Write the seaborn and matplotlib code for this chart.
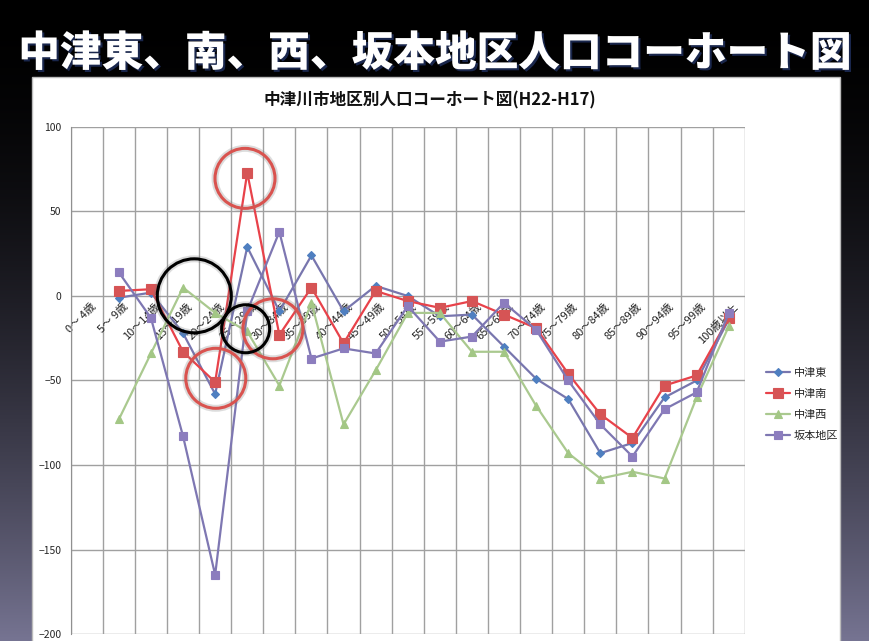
import numpy as np
import pandas as pd
import matplotlib.pyplot as plt
import seaborn as sns
from matplotlib.patches import Rectangle
import matplotlib.patheffects as pe

# ===== データ =====
age_groups = ["0～ 4歳", "5～ 9歳", "10～14歳", "15～19歳", "20～24歳", "25～29歳",
              "30～34歳", "35～39歳", "40～44歳", "45～49歳", "50～54歳", "55～59歳",
              "60～64歳", "65～69歳", "70～74歳", "75～79歳", "80～84歳", "85～89歳",
              "90～94歳", "95～99歳", "100歳以上"]
x_pos = list(range(1, 21))  # 0～4歳はデータなし

higashi = [-1, 2, -22, -58, 29, -9, 24, -9, 6, 0, -12, -11, -30, -49, -61, -93, -87, -60, -50, -14]
minami = [3, 4, -33, -51, 73, -23, 5, -28, 3, -3, -7, -3, -11, -19, -46, -70, -84, -53, -47, -13]
nishi = [-73, -34, 5, -10, -21, -53, -4, -76, -44, -10, -10, -33, -33, -65, -93, -108, -104, -108, -60, -18]
sakamoto = [14, -13, -83, -165, -9, 38, -37, -31, -34, -6, -27, -24, -4, -20, -50, -76, -95, -67, -57, -10]

series_names = ["中津東", "中津南", "中津西", "坂本地区"]
series_values = [higashi, minami, nishi, sakamoto]

# 注目の丸 (x位置, 値, 半径px, 色)
circle_x = [4.93, 4.02, 5.80, 3.35, 4.95]
circle_y = [69.6, -48.7, -19.4, 0.1, -19.4]
circle_r = [30, 30, 30, 37, 24]
circle_c = ["#D9534F", "#D9534F", "#D9534F", "black", "black"]

# ===== スタイル =====
sns.set_style("white")
plt.rcParams["font.family"] = ["Noto Sans CJK JP", "DejaVu Sans"]

line_colors = ["#7876AE", "#E8424A", "#AAC98F", "#7E77B2"]
marker_colors = ["#4F7FC0", "#D65455", "#A3C785", "#8C7DBE"]
markers = ["D", "s", "^", "s"]
marker_sizes = [4.5, 6.5, 5.5, 6]

fig = plt.figure(figsize=(8.69, 6.41), dpi=100)

# 背景グラデーション
bg = fig.add_axes([0, 0, 1, 1], zorder=-10)
t = np.linspace(0, 1, 300) ** 1.8
top = np.array([0, 0, 0])
bottom = np.array([118, 116, 146]) / 255
grad = top[None, :] * (1 - t[:, None]) + bottom[None, :] * t[:, None]
bg.imshow(grad[:, None, :], aspect="auto", extent=[0, 1, 0, 1])
bg.set_axis_off()

# 白いパネル
fig.patches.append(Rectangle((32 / 869, -0.01), 808 / 869, 1 - 77 / 641 + 0.01,
                             transform=fig.transFigure, facecolor="white",
                             edgecolor="#BBBBBB", linewidth=1, zorder=-5))

fig.text(0.5, 1 - 54 / 641, "中津東、南、西、坂本地区人口コーホート図", color="white",
         fontsize=30, fontweight="heavy", ha="center", va="center",
         path_effects=[pe.withSimplePatchShadow(offset=(1.5, -1.5), shadow_rgbFace="#203060", alpha=0.8)])
fig.text(430 / 869, 1 - 100 / 641, "中津川市地区別人口コーホート図(H22-H17)",
         fontsize=12, fontweight="bold", ha="center", va="center", color="#111111")

ax = fig.add_axes([70.7 / 869, 7 / 641, 674.1 / 869, 507 / 641])
ax.set_facecolor("none")

for name, vals, lc, mc, m, ms in zip(series_names, series_values, line_colors,
                                     marker_colors, markers, marker_sizes):
    df = pd.DataFrame({"x": x_pos, "y": vals})
    sns.lineplot(data=df, x="x", y="y", ax=ax, color=lc, linewidth=1.6,
                 marker=m, markersize=ms, markerfacecolor=mc, markeredgecolor=mc,
                 markeredgewidth=0.8, label=name, estimator=None, sort=False, zorder=3)

ax.set_xlim(-0.5, 20.5)
ax.set_ylim(-200, 100)
ax.set_xticks([])
ax.set_xticks(np.arange(-0.5, 21, 1), minor=True)
ax.set_yticks(np.arange(-200, 101, 50))
ax.tick_params(axis="x", which="minor", length=0)
ax.tick_params(axis="y", length=3, width=0.8, color="#888888", labelsize=7.5, pad=3.5)
ax.grid(True, which="minor", axis="x", color="#A0A0A0", linewidth=1)
ax.grid(True, which="major", axis="y", color="#A0A0A0", linewidth=1)
ax.set_xlabel("")
ax.set_ylabel("")
for side in ["top", "right", "bottom"]:
    ax.spines[side].set_visible(False)
ax.spines["left"].set_color("#909090")

# 横軸ラベル (0の位置に斜め表示)
for i, lab in enumerate(age_groups):
    ax.annotate(lab, xy=(i, 0), xytext=(3, -4), textcoords="offset points",
                rotation=45, rotation_mode="anchor", ha="right", va="top",
                fontsize=8, color="#222222", zorder=2)

# 丸印 (影付き)
for cx, cy, r, c in zip(circle_x, circle_y, circle_r, circle_c):
    d = 2 * r * 0.72
    ax.scatter([cx], [cy], s=d ** 2, marker="o", facecolors="none", edgecolors="#777777",
               linewidths=5, alpha=0.25, zorder=4, clip_on=False)
    ax.scatter([cx], [cy], s=d ** 2, marker="o", facecolors="none", edgecolors=c,
               linewidths=2.2, zorder=5, clip_on=False)

leg = ax.legend(loc="upper left", bbox_to_anchor=(756 / 869, 1 - 358 / 641),
                bbox_transform=fig.transFigure, frameon=False, fontsize=8,
                handlelength=2.2, handletextpad=0.3, labelspacing=1.0)

fig.savefig("out.png", dpi=100)
